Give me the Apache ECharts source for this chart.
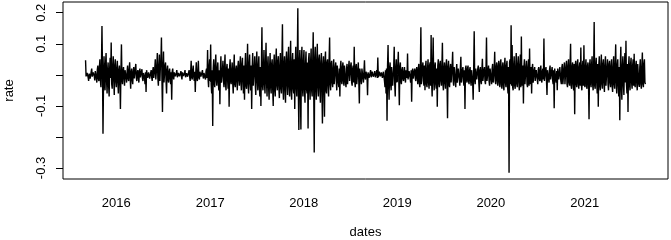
<!DOCTYPE html>
<html>
<head>
<meta charset="utf-8">
<script src="https://cdn.jsdelivr.net/npm/echarts@6/dist/echarts.min.js"></script>
<style>
  html, body { margin: 0; padding: 0; background: #fff; }
  #rate { width: 671px; height: 240px; }
</style>
</head>
<body>
<div id="rate"></div>
<script>
// rate, one reading every 2 days
var startDate = "2015-09-03";
var stepDays = 2;
var rates = [
  .047,-.005, -.01,.006, .012,-.008, -.02,.004, .008,-.012, -.015,.01, .02,-.006, -.012,.008, .01,-.004, -.018,.012,
  .015,-.01, -.025,.018, .03,-.012, -.02,.025, .05,-.02, -.04,.03, .157,.02, -.19,-.03, .06,-.025, -.05,.035,
  .07,-.02, -.06,.015, .04,-.035, -.07,.02, .055,-.01, .104,-.03, -.045,.025, .06,-.015, -.065,.03, .05,-.02,
  -.04,.02, .045,-.025, -.06,.015, .03,-.02, -.11,.01, .098,-.015, -.03,.012, .025,-.01, -.035,.015, .02,-.008,
  -.025,.01, .03,-.012, -.02,.015, .04,-.01, -.045,.008, .02,-.015, -.03,.01, .025,-.012, -.015,.02, .035,-.01,
  -.02,.008, .015,-.01, -.025,.012, .02,-.008, -.01,.01, .018,-.012, -.02,.006, .012,-.01, -.03,.008, -.055,.015,
  .02,-.01, -.015,.008, .012,-.012, -.01,.006, .015,-.008, -.02,.012, .025,-.01, -.015,.02, .05,-.015, -.02,.03,
  .07,-.01, -.035,.025, .065,-.02, .03,.045, .12,-.015, -.12,.02, .075,-.025, -.03,.03, .04,-.02, -.06,.015,
  .03,-.015, -.025,.01, .02,-.012, -.03,.008, -.08,.01, .02,-.006, -.015,.008, .012,-.005, -.01,.006, .015,-.008,
  -.012,.006, .01,-.005, -.008,.004, .012,-.006, -.015,.008, .01,-.004, -.01,.006, .015,-.008, -.012,.005, .008,-.006,
  -.01,.008, .015,-.005, -.02,.01, .045,-.008, -.015,.012, .03,-.006, -.02,.01, -.055,.008, .04,-.01, -.02,.006,
  .045,-.008, -.015,.01, .012,-.006, -.01,.008, .015,-.005, -.012,.006, .01,-.008, -.015,.012, .02,-.01, .08,-.015,
  -.04,.025, .05,-.02, .098,-.03, -.06,.015, -.165,.02, .05,-.025, -.04,.03, .065,-.015, -.035,.02, .04,-.025,
  -.05,.015, -.095,.02, .06,-.025, -.03,.015, .045,-.02, -.04,.025, .065,-.03, -.05,.02, .035,-.015, -.045,.02,
  -.103,.025, .05,-.02, -.03,.015, .04,-.025, -.06,.02, .065,-.03, -.04,.015, .03,-.02, -.05,.025, .045,-.015,
  -.035,.03, .06,-.025, -.05,.035, .055,-.02, -.06,.03, -.08,.025, .07,-.035, -.045,.02, .10,-.03, -.06,.035,
  .065,-.025, -.05,.03, -.11,.02, .07,-.035, -.04,.025, .06,-.03, -.065,.035, .075,-.02, -.05,.03, .06,-.04,
  -.07,.025, -.10,.03, .153,-.035, -.05,.02, .08,-.03, -.06,.035, .103,-.025, -.07,.03, .06,-.04, -.08,.025,
  .07,-.04, -.06,.035, .05,-.045, -.10,.03, .065,-.05, -.07,.04, .085,-.035, -.05,.045, .06,-.04, -.075,.03,
  .07,-.045, -.06,.05, .163,-.04, -.08,.035, .06,-.05, -.09,.045, .075,-.03, -.065,.05, .09,-.04, -.07,.035,
  .11,-.05, -.08,.04, .07,-.045, -.06,.05, -.11,.035, .09,-.04, -.07,.045, .214,-.05, -.178,.04, .08,-.045,
  -.176,.05, .09,-.04, -.07,.045, .08,-.05, -.09,.035, .075,-.045, -.06,.04, -.173,.05, .07,-.04, -.08,.045,
  .085,-.05, -.07,.04, .137,-.045, -.25,.05, .09,-.035, -.08,.045, .10,-.04, -.07,.05, .065,-.045, -.09,.04,
  .07,-.05, -.157,.035, .06,-.04, -.135,.045, .075,-.05, -.06,.04, .05,-.035, -.07,.045, .12,-.03, -.05,.035,
  .045,-.025, -.04,.02, .05,-.03, -.035,.025, .04,-.02, -.05,.03, .035,-.025, -.04,.02, -.07,.025, .045,-.02,
  -.03,.025, .04,-.02, -.035,.03, .03,-.025, -.04,.02, .035,-.03, -.03,.025, .045,-.02, -.025,.03, .04,-.025,
  -.035,.02, .03,-.025, .09,-.02, -.04,.025, .035,-.03, -.03,.02, .04,-.025, -.092,.02, .025,-.015, -.03,.02,
  .02,-.01, -.025,.012, .047,-.008, -.015,.01, .01,-.006, -.066,.008, .012,-.01, -.01,.006, .015,-.008, -.012,.01,
  .01,-.006, -.008,.005, .012,-.008, -.01,.006, .015,-.01, .056,-.008, -.012,.01, .01,-.005, -.01,.008, .012,-.01,
  -.015,.01, .01,-.02, -.04,.015, -.06,.02, -.148,.03, .096,-.025, -.08,.02, .04,-.03, -.05,.025, .03,-.035,
  -.04,.025, .09,-.03, -.07,.02, .05,-.025, -.03,.03, .074,-.02, -.098,.025, .04,-.02, -.03,.015, .025,-.012,
  -.02,.01, .025,-.012, -.025,.015, .02,-.01, .069,-.015, -.02,.012, .015,-.01, -.025,.015, -.087,.01, .02,-.012,
  -.015,.012, .02,-.01, -.02,.015, .025,-.012, -.03,.02, .035,-.025, -.04,.02, .153,-.03, -.03,.025, .04,-.02,
  -.035,.03, -.05,.025, .045,-.03, -.04,.02, .05,-.025, -.045,.03, .04,-.035, .128,-.025, -.07,.03, .12,-.02,
  -.05,.025, .04,-.03, -.045,.02, -.103,.03, .05,-.025, -.04,.035, .045,-.02, -.035,.025, .103,-.03, -.05,.02,
  .04,-.025, -.045,.03, .05,-.02, -.14,.025, .045,-.03, -.04,.02, .035,-.025, -.03,.03, .074,-.02, -.035,.025,
  .03,-.02, -.04,.015, .035,-.025, -.03,.02, .025,-.015, -.035,.02, .058,-.025, -.03,.015, .025,-.02, -.035,.015,
  -.11,.02, .03,-.015, -.025,.02, .03,-.02, -.03,.015, .025,-.02, -.035,.015, .02,-.025, -.08,.02, .14,-.015,
  -.03,.02, .025,-.015, -.02,.02, .03,-.025, -.055,.015, .025,-.02, -.03,.015, .052,-.02, -.02,.015, .025,-.02,
  -.03,.015, .12,-.02, -.025,.015, .03,-.02, -.035,.02, .02,-.015, -.03,.02, .035,-.025, -.025,.015, .074,-.02,
  -.03,.025, .04,-.02, -.035,.03, .045,-.025, -.04,.035, .05,-.03, -.045,.025, .04,-.035, -.05,.03, .055,-.025,
  -.04,.03, .045,-.035, -.06,.025, -.315,.04, .05,-.03, .16,-.035, .096,-.04, -.05,.03, .06,-.035, -.045,.025,
  .07,-.03, -.04,.035, .06,-.025, -.05,.03, .065,-.04, .123,-.035, -.04,.03, -.092,.025, .05,-.03, -.035,.025,
  .045,-.03, -.04,.025, .05,-.035, .085,-.02, -.03,.025, -.06,.02, .035,-.025, -.03,.015, .025,-.02, -.025,.015,
  .02,-.015, -.03,.018, .025,-.012, -.02,.015, .03,-.018, -.025,.012, .02,-.015, .117,-.02, -.02,.015, .025,-.018,
  -.065,.015, .02,-.012, -.025,.018, .03,-.015, -.02,.012, .025,-.018, -.03,.015, -.108,.02, .02,-.015, -.025,.012,
  -.05,.02, .02,-.015, -.015,.025, .025,-.02, -.03,.025, .035,-.03, -.025,.02, .04,-.03, -.035,.025, .045,-.03,
  -.04,.03, .05,-.025, -.035,.03, .10,-.035, -.045,.025, .04,-.03, -.05,.035, -.127,.03, .045,-.025, -.04,.035,
  .05,-.03, -.045,.025, .04,-.035, .088,-.03, -.05,.025, .045,-.035, .095,-.03, -.04,.025, .05,-.035, -.045,.03,
  .04,-.035, -.143,.03, .05,-.025, -.04,.035, .06,-.03, -.05,.025, .17,-.035, -.045,.03, .055,-.025, -.06,.035,
  -.103,.03, .06,-.035, -.05,.025, .065,-.03, -.045,.035, .05,-.025, -.055,.03, .06,-.035, -.04,.025, .05,-.03,
  -.05,.035, .045,-.025, -.04,.03, .05,-.035, -.055,.025, .06,-.03, -.045,.035, .098,-.025, -.06,.03, .05,-.035,
  -.07,.025, -.146,.03, .09,-.035, -.08,.025, .06,-.03, -.065,.035, .07,-.025, .11,-.03, -.06,.035, -.12,.025,
  .06,-.03, -.05,.035, .055,-.025, -.045,.03, .05,-.035, .068,-.025, -.04,.03, .045,-.025, -.05,.035, .04,-.03,
  -.039,.025, .05,-.03, -.045,.025, .072,-.03, -.04,.035, .05,-.025, -.03
];
var yearTicks = [2016, 2017, 2018, 2019, 2020, 2021];
var rateTicks = [-0.3, -0.2, -0.1, 0, 0.1, 0.2];
var rateLabels = [-0.3, -0.1, 0.1, 0.2];

var DAY = 86400000;
var t0 = Date.parse(startDate + "T00:00:00Z");
var points = [];
for (var i = 0; i < rates.length; i++) {
  points.push([t0 + i * stepDays * DAY, rates[i]]);
}
var yearMs = yearTicks.map(function (y) { return Date.UTC(y, 0, 1); });

var myChart = echarts.init(document.getElementById("rate"));
var font = "Liberation Sans, Arial, Helvetica, sans-serif";
var option = {
  animation: false,
  backgroundColor: "#fff",
  grid: {
    left: 63,
    right: 3,
    top: 2,
    bottom: 61,
    outerBoundsMode: "none",
    containLabel: false,
    show: true,
    borderColor: "#000",
    borderWidth: 1,
    backgroundColor: "transparent"
  },
  xAxis: {
    type: "value",
    min: Date.UTC(2015, 5, 7),
    max: Date.UTC(2021, 10, 22),
    name: "dates",
    nameLocation: "middle",
    nameGap: 47,
    nameMoveOverlap: false,
    nameTextStyle: { color: "#000", fontSize: 13, fontFamily: font },
    axisLine: { show: false },
    splitLine: { show: false },
    axisTick: {
      show: true,
      length: 7,
      customValues: yearMs,
      lineStyle: { color: "#000", width: 1 }
    },
    axisLabel: {
      customValues: yearMs,
      margin: 18,
      color: "#000",
      fontSize: 13,
      fontFamily: font,
      formatter: function (v) {
        return String(new Date(v).getUTCFullYear());
      }
    }
  },
  yAxis: {
    type: "value",
    min: -0.3355,
    max: 0.2345,
    name: "rate",
    nameLocation: "middle",
    nameRotate: 90,
    nameGap: 47,
    nameMoveOverlap: false,
    nameTextStyle: { color: "#000", fontSize: 13, fontFamily: font },
    axisLine: { show: false },
    splitLine: { show: false },
    axisTick: {
      show: true,
      length: 7,
      customValues: rateTicks,
      lineStyle: { color: "#000", width: 1 }
    },
    axisLabel: {
      customValues: rateLabels,
      rotate: 90,
      align: "center",
      verticalAlign: "bottom",
      margin: 15,
      color: "#000",
      fontSize: 13,
      fontFamily: font,
      formatter: function (v) {
        return String(v);
      }
    }
  },
  series: [
    {
      type: "line",
      data: points,
      showSymbol: false,
      silent: true,
      sampling: null,
      lineStyle: { color: "#000", width: 1.4 }
    }
  ]
};
myChart.setOption(option);
window.addEventListener("resize", function () {
  myChart.resize();
});
</script>
</body>
</html>
